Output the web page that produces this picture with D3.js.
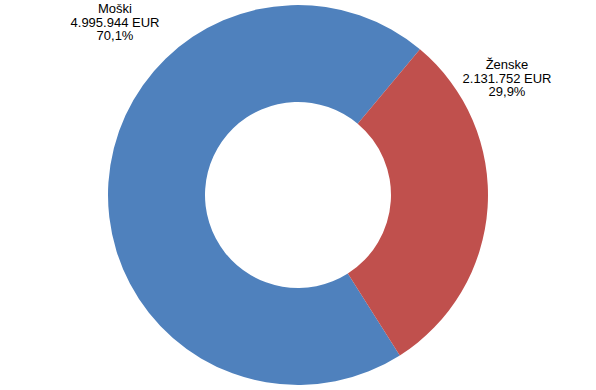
<!DOCTYPE html>
<html>
<head>
<meta charset="utf-8">
<script src="https://cdn.jsdelivr.net/npm/d3@7"></script>
<style>
  body { margin: 0; background: #fff; }
  svg { display: block; }
</style>
</head>
<body>
<svg id="chart" width="596" height="390"></svg>
<script>
const categories = ['Moški', 'Ženske'];
const amounts = [4995944, 2131752];
const amountLabels = ['4.995.944 EUR', '2.131.752 EUR'];
const percentLabels = ['70,1%', '29,9%'];
const colors = ['#4F81BD', '#C0504D'];

const svg = d3.select('#chart'),
  cx = 298,
  cy = 195,
  outerR = 190,
  innerR = 93;

const pie = d3.pie()
  .sort(null)
  .value(d => d)
  .startAngle(147.6 * Math.PI / 180)
  .endAngle((147.6 + 360) * Math.PI / 180);

const arc = d3.arc()
  .innerRadius(innerR)
  .outerRadius(outerR);

const g = svg.append('g').attr('transform', 'translate(' + cx + ',' + cy + ')');

g.selectAll('path')
  .data(pie(amounts))
  .enter().append('path')
  .attr('d', arc)
  .attr('fill', (d, i) => colors[i]);

// label positions (absolute), one per slice
const labelPos = [[115, 13], [507, 69]];

categories.forEach((c, i) => {
  const t = svg.append('text')
    .attr('x', labelPos[i][0])
    .attr('y', labelPos[i][1])
    .attr('text-anchor', 'middle')
    .attr('font-family', 'Liberation Sans, Arial, sans-serif')
    .attr('font-size', 13)
    .attr('fill', '#000');
  [c, amountLabels[i], percentLabels[i]].forEach((line, k) => {
    t.append('tspan')
      .attr('x', labelPos[i][0])
      .attr('dy', k === 0 ? 0 : 13.5)
      .text(line);
  });
});
</script>
</body>
</html>
